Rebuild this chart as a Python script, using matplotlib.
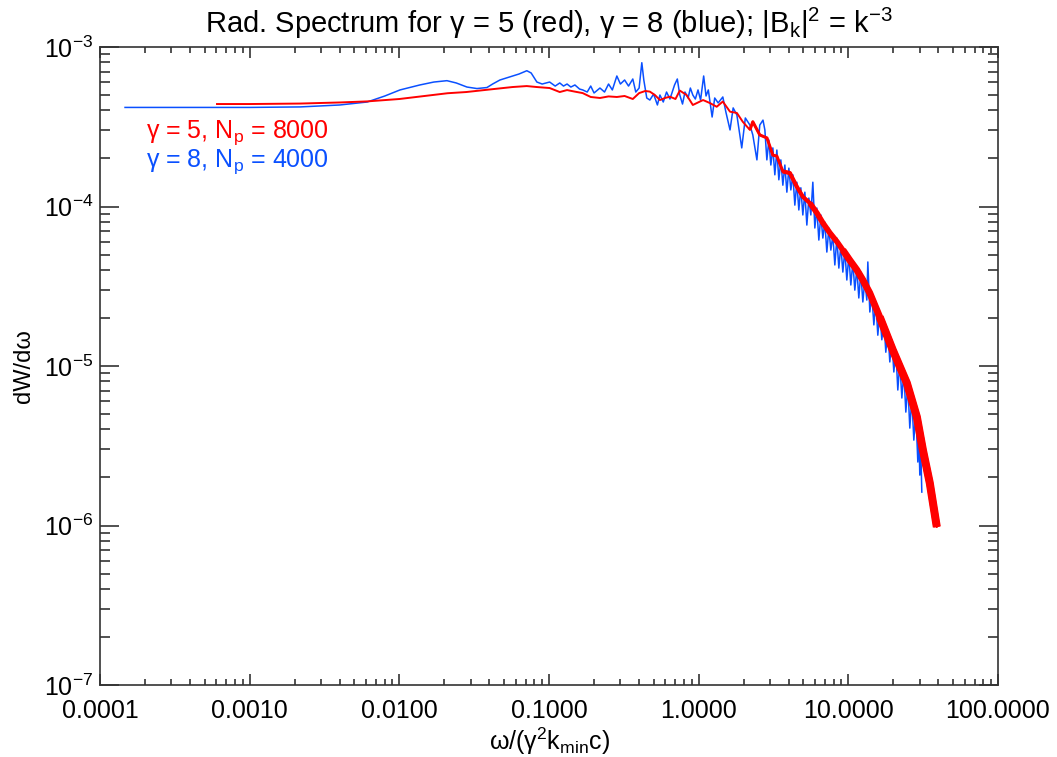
import matplotlib
matplotlib.use('Agg')
import matplotlib.pyplot as plt
import numpy as np
from matplotlib.ticker import LogLocator, NullFormatter, FixedLocator, FixedFormatter

plt.rcParams['font.family'] = ['Liberation Sans', 'DejaVu Sans']
plt.rcParams['mathtext.fontset'] = 'custom'
plt.rcParams['mathtext.rm'] = 'Liberation Sans'
plt.rcParams['mathtext.it'] = 'Liberation Sans'
plt.rcParams['mathtext.bf'] = 'Liberation Sans:bold'
plt.rcParams['mathtext.default'] = 'regular'

# ---------------- data ----------------
red_w = [6.05e-4, 1.0e-3, 2.17e-3, 4.0e-3, 6.1e-3, 1.0e-2, 2.1e-2, 2.8e-2, 3.9e-2,
         5.7e-2, 7.1e-2, 8.3e-2, 0.101, 0.118, 0.132, 0.149, 0.168, 0.19, 0.219,
         0.25, 0.284, 0.32, 0.363, 0.40, 0.44, 0.472, 0.51, 0.551, 0.60, 0.643,
         0.70, 0.748, 0.83, 0.914, 1.07, 1.19, 1.32, 1.45, 1.62, 1.80, 1.97, 2.20,
         2.30, 2.56, 2.86, 3.13, 3.33, 3.65, 4.07, 4.53, 4.97, 5.54, 6.17, 6.76,
         7.53, 8.38, 9.19, 10.2, 11.4, 12.5, 13.9, 16.2, 19.8, 24.6, 28.7, 31.5,
         35.0, 39.0]
red_dw = [4.39e-4, 4.39e-4, 4.42e-4, 4.49e-4, 4.56e-4, 4.72e-4, 5.13e-4, 5.22e-4,
          5.40e-4, 5.61e-4, 5.69e-4, 5.61e-4, 5.53e-4, 5.22e-4, 5.37e-4, 5.25e-4,
          5.14e-4, 4.86e-4, 4.79e-4, 4.90e-4, 4.86e-4, 4.93e-4, 4.72e-4, 5.14e-4,
          5.30e-4, 5.25e-4, 5.00e-4, 4.65e-4, 4.80e-4, 4.88e-4, 4.72e-4, 5.33e-4,
          5.00e-4, 4.33e-4, 4.65e-4, 4.45e-4, 4.22e-4, 4.55e-4, 3.93e-4, 3.86e-4,
          3.40e-4, 3.02e-4, 3.40e-4, 2.81e-4, 2.69e-4, 2.10e-4, 2.07e-4, 1.66e-4,
          1.62e-4, 1.33e-4, 1.15e-4, 1.05e-4, 9.10e-5, 7.89e-5, 6.83e-5, 6.03e-5,
          5.33e-5, 4.62e-5, 4.00e-5, 3.46e-5, 2.87e-5, 2.03e-5, 1.26e-5, 7.82e-6,
          4.79e-6, 2.97e-6, 1.85e-6, 9.8e-7]

blue_w = [1.47e-4, 1.0e-3, 2.17e-3, 4.0e-3, 6.1e-3, 8.0e-3, 1.01e-2, 1.37e-2, 1.7e-2,
          2.08e-2, 2.4e-2, 2.83e-2, 3.3e-2, 3.85e-2, 4.2e-2, 4.7e-2, 5.74e-2, 6.3e-2,
          7.11e-2, 7.6e-2, 8.3e-2, 9.0e-2, 0.101, 0.11, 0.118, 0.125, 0.132, 0.14,
          0.149, 0.16, 0.168, 0.18, 0.19, 0.20, 0.219, 0.235, 0.25, 0.265, 0.284,
          0.30, 0.32, 0.34, 0.363, 0.38, 0.40, 0.417, 0.43, 0.45, 0.472, 0.50, 0.53,
          0.551, 0.58, 0.61, 0.643, 0.69, 0.72, 0.748, 0.78, 0.81, 0.85, 0.88, 0.914,
          0.95, 0.99, 1.03, 1.08, 1.12, 1.16, 1.23, 1.28, 1.35, 1.45, 1.52, 1.62,
          1.70, 1.80, 1.94, 2.05, 2.20, 2.30, 2.45, 2.56, 2.69,
          2.769, 2.855, 2.944, 3.036, 3.131, 3.228, 3.330, 3.434, 3.541, 3.652,
          3.766, 3.884, 4.005, 4.130, 4.259, 4.391, 4.529, 4.670, 4.816, 4.966,
          5.122, 5.282, 5.447, 5.617, 5.792, 5.973, 6.160, 6.353, 6.551, 6.756,
          6.966, 7.185, 7.409, 7.641, 7.880, 8.125, 8.380, 8.643, 8.912, 9.190,
          9.476, 9.772, 10.08, 10.39, 10.72, 11.05, 11.40, 11.75, 12.12, 12.50,
          12.89, 13.29, 13.50, 13.92, 14.36, 14.81, 15.27, 15.74, 16.23, 16.74,
          17.27, 17.80, 18.36, 18.93, 19.53, 20.14, 20.77, 21.41, 22.08, 22.78,
          23.49, 24.22, 24.98, 25.75, 26.56, 27.39, 28.24, 29.13, 29.58, 30.03,
          30.50, 30.97]
blue_dw = [4.18e-4, 4.18e-4, 4.21e-4, 4.33e-4, 4.52e-4, 4.93e-4, 5.38e-4, 5.78e-4,
           6.03e-4, 6.15e-4, 5.95e-4, 5.61e-4, 5.49e-4, 5.57e-4, 5.86e-4, 6.21e-4,
           6.58e-4, 6.77e-4, 7.10e-4, 6.87e-4, 6.03e-4, 5.86e-4, 6.03e-4, 5.69e-4,
           5.95e-4, 5.69e-4, 5.86e-4, 5.61e-4, 5.78e-4, 5.45e-4, 5.38e-4, 5.22e-4,
           5.69e-4, 5.15e-4, 5.53e-4, 5.22e-4, 5.86e-4, 5.38e-4, 6.58e-4, 5.86e-4,
           6.21e-4, 5.69e-4, 6.30e-4, 5.22e-4, 5.53e-4, 7.97e-4, 6.21e-4, 4.79e-4,
           4.65e-4, 5.07e-4, 4.33e-4, 5.00e-4, 4.52e-4, 5.22e-4, 4.72e-4, 5.78e-4,
           6.30e-4, 5.00e-4, 4.39e-4, 5.22e-4, 4.79e-4, 5.53e-4, 5.00e-4, 4.72e-4,
           5.38e-4, 4.65e-4, 6.58e-4, 4.93e-4, 5.38e-4, 3.64e-4, 4.79e-4, 4.46e-4,
           4.86e-4, 3.91e-4, 3.02e-4, 4.15e-4, 3.75e-4, 2.33e-4, 3.59e-4, 3.24e-4,
           2.81e-4, 1.96e-4, 3.24e-4, 3.48e-4,
           3.02e-4, 1.96e-4, 2.61e-4, 1.82e-4, 2.33e-4, 1.58e-4, 2.26e-4, 1.47e-4,
           1.96e-4, 1.36e-4, 1.82e-4, 1.23e-4, 1.74e-4, 1.27e-4, 1.58e-4, 1.02e-4,
           1.42e-4, 9.51e-5, 1.31e-4, 8.85e-5, 1.23e-4, 7.65e-5, 1.13e-4, 8.85e-5,
           1.42e-4, 7.33e-5, 9.78e-5, 6.16e-5, 8.85e-5, 6.34e-5, 7.99e-5, 5.18e-5,
           7.33e-5, 5.33e-5, 6.62e-5, 4.30e-5, 6.34e-5, 4.11e-5, 5.73e-5, 3.88e-5,
           5.33e-5, 3.46e-5, 4.96e-5, 3.22e-5, 4.49e-5, 2.99e-5, 4.11e-5, 2.67e-5,
           3.88e-5, 2.52e-5, 3.46e-5, 2.59e-5, 4.49e-5, 2.18e-5, 2.79e-5, 1.81e-5,
           2.52e-5, 1.56e-5, 2.18e-5, 1.46e-5, 1.94e-5, 1.22e-5, 1.68e-5, 1.06e-5,
           1.46e-5, 9.17e-6, 1.26e-5, 7.07e-6, 1.06e-5, 6.30e-6, 9.17e-6, 5.14e-6,
           7.60e-6, 4.08e-6, 6.30e-6, 3.43e-6, 5.14e-6, 2.50e-6, 3.97e-6, 2.07e-6,
           2.97e-6, 1.62e-6]

x_ticks = [1e-4, 1e-3, 1e-2, 1e-1, 1e0, 1e1, 1e2]
x_labels = ['0.0001', '0.0010', '0.0100', '0.1000', '1.0000', '10.0000', '100.0000']

RED = '#ff0000'
BLUE = '#0a50ff'

# ---------------- figure ----------------
fig = plt.figure(figsize=(10.57, 7.57), dpi=100)
ax = fig.add_axes([100/1057, 1 - 685/757, 898/1057, 638/757])
ax.set_xscale('log')
ax.set_yscale('log')
ax.set_xlim(1e-4, 1e2)
ax.set_ylim(1e-7, 1e-3)

rw = np.array(red_w)
rd = np.array(red_dw)
ax.plot(blue_w, blue_dw, color=BLUE, lw=1.1, zorder=2)
ax.plot(rw, rd, color=RED, lw=1.4, zorder=3)
# the dense red noise in the tail reads as a band that widens with frequency
for start, width in [(2.2, 2.2), (3.6, 3.0), (5.5, 4.0), (9.0, 5.0), (15.0, 5.8)]:
    m = rw >= start
    ax.plot(rw[m], rd[m], color=RED, lw=width, zorder=3, solid_capstyle='butt',
            solid_joinstyle='round')

# ticks
ax.xaxis.set_major_locator(FixedLocator(x_ticks))
ax.xaxis.set_major_formatter(FixedFormatter(x_labels))
ax.xaxis.set_minor_locator(LogLocator(base=10, subs=np.arange(2, 10), numticks=20))
ax.xaxis.set_minor_formatter(NullFormatter())
ax.yaxis.set_major_locator(LogLocator(base=10, numticks=10))
ax.yaxis.set_minor_locator(LogLocator(base=10, subs=np.arange(2, 10), numticks=20))
ax.yaxis.set_minor_formatter(NullFormatter())

ax.tick_params(axis='both', which='both', direction='in', top=True, right=True,
               width=1.2, color='#333333')
ax.tick_params(axis='x', which='major', length=8, pad=10, labelsize=18)
ax.tick_params(axis='x', which='minor', length=4)
ax.tick_params(axis='y', which='major', length=13.5, pad=5, labelsize=18)
ax.tick_params(axis='y', which='minor', length=7)
for s in ax.spines.values():
    s.set_linewidth(1.2)
    s.set_color('#333333')

ax.set_title('Rad. Spectrum for γ = 5 (red), γ = 8 (blue); |B$_k$|$^2$ = k$^{-3}$',
             fontsize=21, pad=10)
ax.set_xlabel('ω/(γ$^2$k$_{min}$c)', fontsize=18, labelpad=2)
ax.set_ylabel('dW/dω', fontsize=17, labelpad=6)

ax.text(0.051, 0.857, 'γ = 5, N$_p$ = 8000', color=RED, fontsize=18,
        transform=ax.transAxes, ha='left', va='baseline')
ax.text(0.051, 0.813, 'γ = 8, N$_p$ = 4000', color=BLUE, fontsize=18,
        transform=ax.transAxes, ha='left', va='baseline')

fig.savefig('out.png', dpi=100)
